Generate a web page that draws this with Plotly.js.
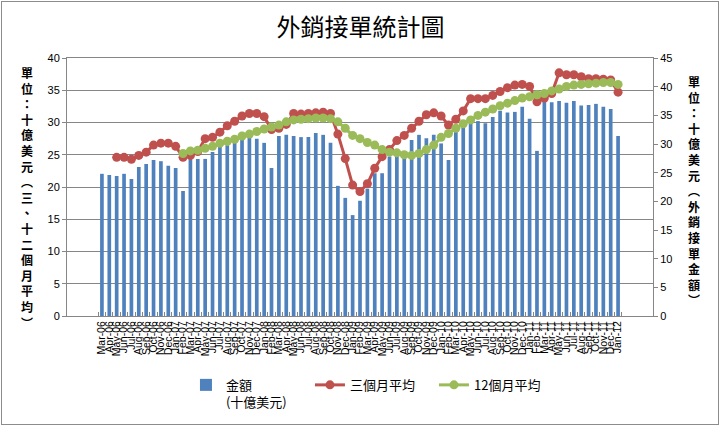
<!DOCTYPE html>
<html>
<head>
<meta charset="utf-8">
<script src="https://cdn.plot.ly/plotly-3.0.1.min.js"></script>
<style>
  html, body { margin: 0; padding: 0; background: #fff; }
  #wrap { position: relative; width: 721px; height: 426px; }
  #chart { position: absolute; left: 0; top: 0; width: 721px; height: 426px; }
  #frame { position: absolute; left: 1px; top: 1px; width: 716px; height: 422px;
           border: 1px solid #8c8c8c; pointer-events: none; }
</style>
</head>
<body>
<div id="wrap"><div id="chart"></div><div id="frame"></div></div>
<script>
const categories = [
  "Mar-06","Apr-06","May-06","Jun-06","Jul-06","Aug-06","Sep-06","Oct-06","Nov-06","Dec-06",
  "Jan-07","Feb-07","Mar-07","Apr-07","May-07","Jun-07","Jul-07","Aug-07","Sep-07","Oct-07","Nov-07","Dec-07",
  "Jan-08","Feb-08","Mar-08","Apr-08","May-08","Jun-08","Jul-08","Aug-08","Sep-08","Oct-08","Nov-08","Dec-08",
  "Jan-09","Feb-09","Mar-09","Apr-09","May-09","Jun-09","Jul-09","Aug-09","Sep-09","Oct-09","Nov-09","Dec-09",
  "Jan-10","Feb-10","Mar-10","Apr-10","May-10","Jun-10","Jul-10","Aug-10","Sep-10","Oct-10","Nov-10","Dec-10",
  "Jan-11","Feb-11","Mar-11","Apr-11","May-11","Jun-11","Jul-11","Aug-11","Sep-11","Oct-11","Nov-11","Dec-11",
  "Jan-12"
];

// 金額 (十億美元) – right axis
const orders = [
  24.8,24.6,24.4,24.8,23.9,26.0,26.5,27.2,27.0,26.2,
  25.8,21.8,27.9,27.4,27.4,28.6,29.5,29.8,30.4,32.1,31.2,30.9,
  30.2,25.8,31.4,31.6,31.4,31.2,31.2,31.9,31.6,30.2,22.7,20.6,
  17.6,20.1,22.2,24.9,24.9,27.8,28.2,27.8,30.7,31.6,31.0,31.6,
  30.1,27.2,32.2,33.0,33.7,34.0,33.6,34.7,35.8,35.5,35.6,36.5,
  34.4,28.8,37.4,37.3,37.5,37.2,37.5,36.7,36.8,37.0,36.5,36.1,
  31.4
];

// 三個月平均 – left axis
const avg3 = [
  null,null,24.6,24.6,24.3,24.9,25.4,26.5,26.8,26.8,
  26.3,24.6,24.9,25.5,27.5,27.7,28.5,29.5,30.2,31.0,31.4,31.4,
  30.9,28.9,29.1,29.7,31.4,31.3,31.4,31.5,31.6,31.4,28.2,24.4,
  20.3,19.3,20.5,22.9,24.7,25.8,27.2,28.0,29.1,30.2,31.2,31.5,
  31.0,29.6,30.5,31.8,33.7,33.7,33.7,34.2,34.8,35.4,35.8,35.9,
  35.6,33.2,33.8,34.5,37.7,37.4,37.4,37.1,36.8,36.8,36.7,36.6,
  34.7
];

// 12個月平均 – left axis
const avg12 = [
  null,null,null,null,null,null,null,null,null,null,
  null,25.2,25.6,25.7,26.0,26.3,26.8,27.1,27.4,27.9,28.2,28.6,
  29.0,29.3,29.6,30.1,30.4,30.5,30.6,30.7,30.7,30.6,30.1,29.1,
  28.0,27.5,26.9,26.5,25.8,25.4,25.3,25.0,24.9,25.2,25.8,26.5,
  27.7,28.3,29.1,29.8,30.4,31.1,31.6,32.1,32.6,33.0,33.4,33.8,
  34.0,34.3,34.5,34.9,35.2,35.6,35.8,35.9,36.0,36.1,36.2,36.2,
  35.9
];

const titleText = "外銷接單統計圖";
const leftTitle = "單位：十億美元︵三、十二個月平均︶";
const rightTitle = "單位：十億美元︵外銷接單金額︶";
const seriesNames = ["金額<br>(十億美元)", "三個月平均", "12個月平均"];

const CJK = "Noto Sans CJK TC, Noto Sans CJK SC, sans-serif";
const LAT = "Liberation Sans, Arial, sans-serif";

const traces = [
  {
    type: "bar", x: categories, y: orders, name: seriesNames[0],
    yaxis: "y", marker: { color: "#4F81BD" }
  },
  {
    type: "scatter", mode: "lines+markers", x: categories, y: avg3, name: seriesNames[1],
    yaxis: "y2", line: { color: "#C0504D", width: 3 },
    marker: { color: "#C0504D", size: 9 }
  },
  {
    type: "scatter", mode: "lines+markers", x: categories, y: avg12, name: seriesNames[2],
    yaxis: "y2", line: { color: "#9BBB59", width: 3 },
    marker: { color: "#9BBB59", size: 9 }
  }
];

const vert = s => Array.from(s).join("<br>");

const layout = {
  width: 721, height: 426,
  margin: { l: 67, r: 68, t: 58, b: 110, autoexpand: false },
  paper_bgcolor: "#ffffff", plot_bgcolor: "#ffffff",
  bargap: 0.5,
  showlegend: true,
  title: {
    text: titleText, x: 0.5, xanchor: "center", y: 0.935, yanchor: "middle", yref: "container",
    font: { family: CJK, size: 24, color: "#000" }
  },
  xaxis: {
    type: "category", tickmode: "linear", dtick: 1, automargin: false,
    tickangle: -90, tickfont: { family: LAT, size: 10.5, color: "#000" },
    showline: true, linecolor: "#868686", linewidth: 1, mirror: true,
    ticks: "inside", ticklen: 4, tickcolor: "#868686", tickson: "boundaries",
    showgrid: false, zeroline: false, fixedrange: true
  },
  yaxis: {
    side: "right", range: [0, 45], dtick: 5, tick0: 0, automargin: false,
    showgrid: false, zeroline: false,
    showline: true, linecolor: "#868686", linewidth: 1,
    ticks: "outside", ticklen: 4, tickcolor: "#868686",
    tickfont: { family: LAT, size: 11, color: "#000" }
  },
  yaxis2: {
    overlaying: "y", side: "left", range: [0, 40], dtick: 5, tick0: 0, automargin: false,
    showgrid: true, gridcolor: "#868686", gridwidth: 1, zeroline: false,
    showline: true, linecolor: "#868686", linewidth: 1,
    ticks: "outside", ticklen: 4, tickcolor: "#868686",
    tickfont: { family: LAT, size: 11, color: "#000" }
  },
  legend: {
    orientation: "h", x: 0.203, xanchor: "left", y: -0.209, yanchor: "top",
    font: { family: CJK, size: 13, color: "#000" },
    entrywidth: 79, entrywidthmode: "pixels",
    traceorder: "normal", valign: "top", bgcolor: "rgba(0,0,0,0)"
  },
  annotations: [
    {
      text: vert(leftTitle), xref: "paper", yref: "paper",
      x: -0.068, y: 0.461, xanchor: "center", yanchor: "middle", showarrow: false,
      font: { family: CJK, size: 12, color: "#000", weight: "bold" }
    },
    {
      text: vert(rightTitle), xref: "paper", yref: "paper",
      x: 1.07, y: 0.486, xanchor: "center", yanchor: "middle", showarrow: false,
      font: { family: CJK, size: 12, color: "#000", weight: "bold" }
    }
  ]
};

Plotly.newPlot("chart", traces, layout, { staticPlot: true, displayModeBar: false });
</script>
</body>
</html>
